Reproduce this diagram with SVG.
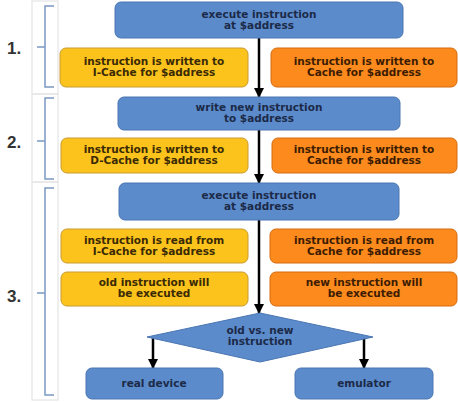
<svg xmlns="http://www.w3.org/2000/svg" width="458" height="402" viewBox="0 0 458 402">
<defs>
<marker id="ah" viewBox="0 0 10 10" refX="9" refY="5" markerWidth="4" markerHeight="4" orient="auto" markerUnits="strokeWidth">
<path d="M0,0 L10,5 L0,10 z" fill="#000"/>
</marker>
<style>
.blue{fill:#5b8bcb;stroke:#4a76b2;stroke-width:1}
.yel{fill:#fcc31c;stroke:#c99b30;stroke-width:1}
.org{fill:#fc8a1d;stroke:#d46c12;stroke-width:1}
text{font-family:"DejaVu Sans","Liberation Sans",Arial,sans-serif;font-size:10.5px;font-weight:bold;text-anchor:middle}
.tb{fill:#1c2a48}
.ty{fill:#3a2a05}
.to{fill:#3d1c02}
.num{font-family:"Liberation Sans",Arial,sans-serif;font-size:17px;font-weight:bold;fill:#333;text-anchor:start}
.br{fill:none;stroke:#7b98c4;stroke-width:1.5}
.panel{fill:none;stroke:#e4e4e4;stroke-width:1.2}
.conn{stroke:#000;stroke-width:2.5;fill:none;marker-end:url(#ah)}
</style>
</defs>
<rect width="458" height="402" fill="#fff"/>
<g id="panels">
<rect class="panel" x="32" y="1" width="26" height="93"/>
<rect class="panel" x="32" y="94" width="26" height="88"/>
<rect class="panel" x="32" y="182" width="26" height="218"/>
</g>
<g id="brackets">
<path class="br" d="M54,6 H45 V87 H54 M45,47 H37"/>
<path class="br" d="M54,98 H45 V179 H54 M45,141 H37"/>
<path class="br" d="M54,188 H45 V395 H54 M45,293 H37"/>
<text class="num" x="7" y="54">1.</text>
<text class="num" x="7" y="148">2.</text>
<text class="num" x="7" y="302">3.</text>
</g>
<g id="connectors">
<line class="conn" x1="259" y1="38" x2="259" y2="97"/>
<line class="conn" x1="259" y1="130" x2="259" y2="183"/>
<line class="conn" x1="259" y1="220" x2="259" y2="313"/>
<line class="conn" x1="153" y1="336" x2="153" y2="368"/>
<line class="conn" x1="364" y1="336" x2="364" y2="368"/>
</g>
<g id="n1">
<rect class="blue" x="115" y="2" width="288" height="36" rx="6"/>
<text class="tb" x="259" y="18">execute instruction</text>
<text class="tb" x="259" y="29">at $address</text>
</g>
<g id="n1y">
<rect class="yel" x="60" y="48" width="188" height="39" rx="6"/>
<text class="ty" x="154" y="65">instruction is written to</text>
<text class="ty" x="154" y="76">I-Cache for $address</text>
</g>
<g id="n1o">
<rect class="org" x="271" y="48" width="186" height="39" rx="6"/>
<text class="to" x="364" y="65">instruction is written to</text>
<text class="to" x="364" y="76">Cache for $address</text>
</g>
<g id="n2">
<rect class="blue" x="118" y="97" width="282" height="33" rx="6"/>
<text class="tb" x="259" y="111">write new instruction</text>
<text class="tb" x="259" y="122">to $address</text>
</g>
<g id="n2y">
<rect class="yel" x="61" y="138" width="187" height="35" rx="6"/>
<text class="ty" x="154" y="153">instruction is written to</text>
<text class="ty" x="154" y="164">D-Cache for $address</text>
</g>
<g id="n2o">
<rect class="org" x="272" y="138" width="185" height="35" rx="6"/>
<text class="to" x="364" y="153">instruction is written to</text>
<text class="to" x="364" y="164">Cache for $address</text>
</g>
<g id="n3">
<rect class="blue" x="119" y="183" width="280" height="37" rx="6"/>
<text class="tb" x="259" y="199">execute instruction</text>
<text class="tb" x="259" y="210">at $address</text>
</g>
<g id="n3y">
<rect class="yel" x="61" y="229" width="187" height="34" rx="6"/>
<text class="ty" x="154" y="244">instruction is read from</text>
<text class="ty" x="154" y="255">I-Cache for $address</text>
</g>
<g id="n3o">
<rect class="org" x="270" y="229" width="187" height="34" rx="6"/>
<text class="to" x="364" y="244">instruction is read from</text>
<text class="to" x="364" y="255">Cache for $address</text>
</g>
<g id="n4y">
<rect class="yel" x="61" y="272" width="187" height="34" rx="6"/>
<text class="ty" x="154" y="286">old instruction will</text>
<text class="ty" x="154" y="297">be executed</text>
</g>
<g id="n4o">
<rect class="org" x="270" y="272" width="187" height="34" rx="6"/>
<text class="to" x="364" y="286">new instruction will</text>
<text class="to" x="364" y="297">be executed</text>
</g>
<g id="decision">
<polygon class="blue" points="260,313 373,337 260,362 147,337"/>
<text class="tb" x="260" y="334">old vs. new</text>
<text class="tb" x="260" y="345">instruction</text>
</g>
<g id="real">
<rect class="blue" x="86" y="368" width="137" height="31" rx="6"/>
<text class="tb" x="154" y="387">real device</text>
</g>
<g id="emu">
<rect class="blue" x="295" y="368" width="138" height="31" rx="6"/>
<text class="tb" x="364" y="387">emulator</text>
</g>
</svg>
